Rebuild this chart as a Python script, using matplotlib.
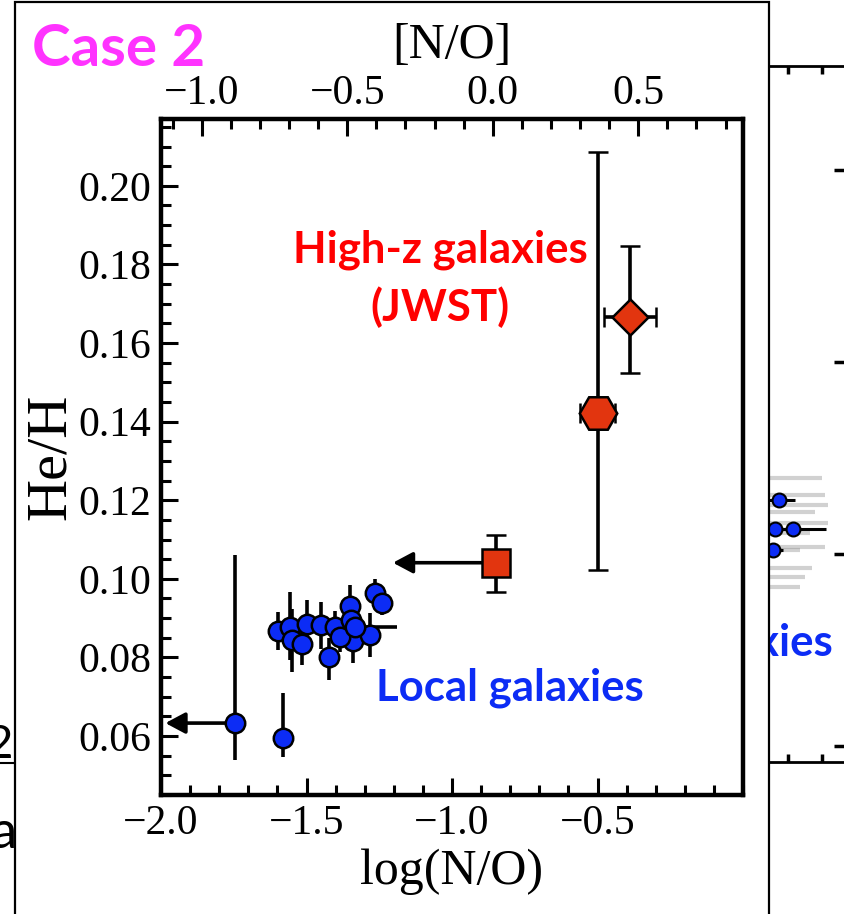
import matplotlib.pyplot as plt
from matplotlib.patches import Rectangle
from matplotlib.ticker import MultipleLocator

W, H = 844, 914

# ---------------------------------------------------------------------------
# Local galaxies: log(N/O), He/H and errors
# ---------------------------------------------------------------------------
local_logno = [-1.746, -1.581, -1.599, -1.557, -1.551, -1.516, -1.499, -1.450,
               -1.402, -1.423, -1.350, -1.347, -1.341, -1.282, -1.265, -1.242,
               -1.385, -1.333]
local_heh = [0.0633, 0.0595, 0.0868, 0.0878, 0.0844, 0.0834, 0.0885, 0.0882,
             0.0877, 0.0800, 0.0931, 0.0895, 0.0843, 0.0857, 0.0965, 0.0938,
             0.0853, 0.0878]
local_err_lo = [0.0094, 0.0048, 0.0049, 0.0085, 0.0080, 0.0054, 0.0050, 0.0060,
                0.0040, 0.0058, 0.0040, 0.0040, 0.0058, 0.0055, 0.0030, 0.0030,
                0.0040, 0.0030]
local_err_hi = [0.0427, 0.0114, 0.0048, 0.0089, 0.0080, 0.0050, 0.0061, 0.0060,
                0.0040, 0.0050, 0.0053, 0.0040, 0.0040, 0.0055, 0.0035, 0.0030,
                0.0040, 0.0030]
local_xerr = [0.0, 0.0, 0.0, 0.0, 0.0, 0.0, 0.0, 0.0,
              0.0, 0.0, 0.0, 0.0, 0.0, 0.0, 0.0, 0.0,
              0.0, 0.144]

# ---------------------------------------------------------------------------
# High-z JWST galaxies
# ---------------------------------------------------------------------------
jwst_logno = [-0.849, -0.499, -0.388]
jwst_heh = [0.1041, 0.1423, 0.1667]
jwst_err_lo = [0.0075, 0.0401, 0.0144]
jwst_err_hi = [0.0070, 0.0663, 0.0180]
jwst_xerr = [0.0, 0.06, 0.088]
jwst_markers = ["s", "H", "D"]
jwst_sizes = [20, 27, 18]

# N/O upper limits: (x, y, arrow tip x)
limit_x = [-1.746, -0.849]
limit_y = [0.0633, 0.1041]
limit_to = [-1.985, -1.203]

# solar log(N/O) for the [N/O] axis
LOG_NO_SUN = -0.86

# faint panel behind the frame (He/H vs. arbitrary x)
bg_x = [5.74, 5.62, 6.15, 5.56]
bg_y = [0.114, 0.1065, 0.1065, 0.101]
bg_xerr = [0.45, 0.3, 0.97, 0.3]
ghost_x = [5.0, 5.1, 5.2, 5.0, 5.3, 5.1, 5.2, 5.0, 5.1, 5.0, 5.2]
ghost_y = [0.1198, 0.1154, 0.1128, 0.1110, 0.1081, 0.1055, 0.1018, 0.1010,
           0.0964, 0.0940, 0.0914]
ghost_xerr = [2.0, 1.99, 1.98, 1.8, 1.88, 1.55, 1.89, 1.35, 1.6, 1.5, 1.15]
ghost_yerr = [0.006, 0.005, 0.007, 0.004, 0.006, 0.005, 0.006, 0.004, 0.005,
              0.004, 0.006]

BLUE = "#0c2cf5"
RED = "#e2350f"

serif = ["Liberation Serif", "DejaVu Serif"]
sans = ["Lato", "DejaVu Sans"]

fig = plt.figure(figsize=(W / 100, H / 100), dpi=100)


def fx(px):
    return px / W


def fy(py):
    return 1 - py / H


# ---------------------------------------------------------------------------
# Background panel (partly hidden by the frame)
# ---------------------------------------------------------------------------
bg = fig.add_axes([fx(584), fy(762), fx(846) - fx(584), fy(66) - fy(762)], zorder=0)
bg.set_xlim(0, 7.7)
bg.set_ylim(0.0458, 0.2271)
bg.errorbar(ghost_x, ghost_y, xerr=ghost_xerr, yerr=ghost_yerr, fmt="none",
            ecolor="0.55", elinewidth=3, alpha=0.4)
bg.errorbar(bg_x, bg_y, xerr=bg_xerr, fmt="o", ms=10, mfc=BLUE, mec="k", mew=1.5,
            ecolor="k", elinewidth=2.2)
bg.set_xticks([6, 7])
bg.set_yticks([0.05, 0.10, 0.15, 0.20])
bg.tick_params(axis="both", direction="in", length=6, width=2.5,
               top=True, bottom=True, right=True, left=False,
               labelbottom=False, labelleft=False)
bg.spines["left"].set_visible(False)
for side in ["top", "bottom", "right"]:
    bg.spines[side].set_linewidth(2)
bg.tick_params(axis="y", length=9)

fig.text(fx(833), fy(643), "Local galaxies", color=BLUE, fontsize=31.5,
         fontweight="bold", family=sans, ha="right", va="center", zorder=0.5)

# slide text peeking out on the left
fig.text(fx(13), fy(745), "2", color="k", fontsize=34, family=sans,
         ha="right", va="center", zorder=0.5)
fig.lines.append(plt.Line2D([0, fx(13)], [fy(763), fy(763)], color="k", lw=1.5,
                            transform=fig.transFigure, zorder=0.5))
fig.text(fx(17), fy(833), "a", color="k", fontsize=38, family=sans,
         ha="right", va="center", zorder=0.5)

# white frame holding the main figure
fig.patches.append(Rectangle((fx(15), -0.05), fx(769) - fx(15), fy(2) + 0.05,
                             transform=fig.transFigure, facecolor="white",
                             edgecolor="k", lw=1.6, zorder=1))

# ---------------------------------------------------------------------------
# Main panel
# ---------------------------------------------------------------------------
ax = fig.add_axes([fx(161), fy(795), fx(743) - fx(161), fy(119) - fy(795)], zorder=2)
ax.set_xlim(-2.0, 0.0)
ax.set_ylim(0.045, 0.217)

ax.errorbar(local_logno, local_heh, yerr=[local_err_lo, local_err_hi],
            xerr=local_xerr, fmt="o", ms=14, mfc=BLUE, mec="k", mew=1.8,
            ecolor="k", elinewidth=2.6, capsize=0, zorder=3)

for x, y, lo, hi, xe, m, s in zip(jwst_logno, jwst_heh, jwst_err_lo,
                                  jwst_err_hi, jwst_xerr, jwst_markers, jwst_sizes):
    ax.errorbar([x], [y], yerr=[[lo], [hi]], xerr=[xe], fmt=m, ms=s, mfc=RED,
                mec="k", mew=1.8, ecolor="k", elinewidth=2.6, capsize=7,
                capthick=2.6, zorder=4)

for x, y, tip in zip(limit_x, limit_y, limit_to):
    ax.annotate("", xy=(tip, y), xytext=(x, y),
                arrowprops=dict(arrowstyle="-|>,head_length=0.6,head_width=0.32",
                                color="k", lw=2.6, shrinkA=0, shrinkB=0,
                                mutation_scale=20), zorder=2)

ax.xaxis.set_minor_locator(MultipleLocator(0.1))
ax.yaxis.set_major_locator(MultipleLocator(0.02))
ax.yaxis.set_minor_locator(MultipleLocator(0.005))
ax.set_xticks([-2.0, -1.5, -1.0, -0.5])
ax.tick_params(axis="both", which="major", direction="in", length=12, width=2.2,
               labelsize=30, pad=7, top=False, right=False)
ax.tick_params(axis="both", which="minor", direction="in", length=7, width=2.2,
               top=False, right=False)
for lab in ax.get_xticklabels() + ax.get_yticklabels():
    lab.set_family(serif)
for sp in ax.spines.values():
    sp.set_linewidth(3.2)

ax.set_xlabel("log(N/O)", fontsize=36, family=serif, labelpad=4)
ax.set_ylabel("He/H", fontsize=42, family=serif, labelpad=1)

# [N/O] axis along the top
top = ax.secondary_xaxis("top", functions=(lambda v: v - LOG_NO_SUN,
                                           lambda v: v + LOG_NO_SUN))
top.set_xticks([-1.0, -0.5, 0.0, 0.5])
top.xaxis.set_minor_locator(MultipleLocator(0.1))
top.tick_params(which="major", direction="in", length=12, width=2.2,
                labelsize=30, pad=4)
top.tick_params(which="minor", direction="in", length=7, width=2.2)
for lab in top.get_xticklabels():
    lab.set_family(serif)
top.set_xlabel("[N/O]", fontsize=36, family=serif, labelpad=12)

ax.text(-1.041, 0.1837, "High-z galaxies", color="#ff0000", fontsize=31.5,
        fontweight="bold", family=sans, ha="center", va="center")
ax.text(-1.041, 0.1690, "(JWST)", color="#ff0000", fontsize=31.5,
        fontweight="bold", family=sans, ha="center", va="center")
ax.text(-0.801, 0.0722, "Local galaxies", color=BLUE, fontsize=31.5,
        fontweight="bold", family=sans, ha="center", va="center")

fig.text(fx(119), fy(50), "Case 2", color="#ff33ff", fontsize=42,
         fontweight="bold", family=sans, ha="center", va="center", zorder=5)

fig.savefig("out.png", dpi=100)
